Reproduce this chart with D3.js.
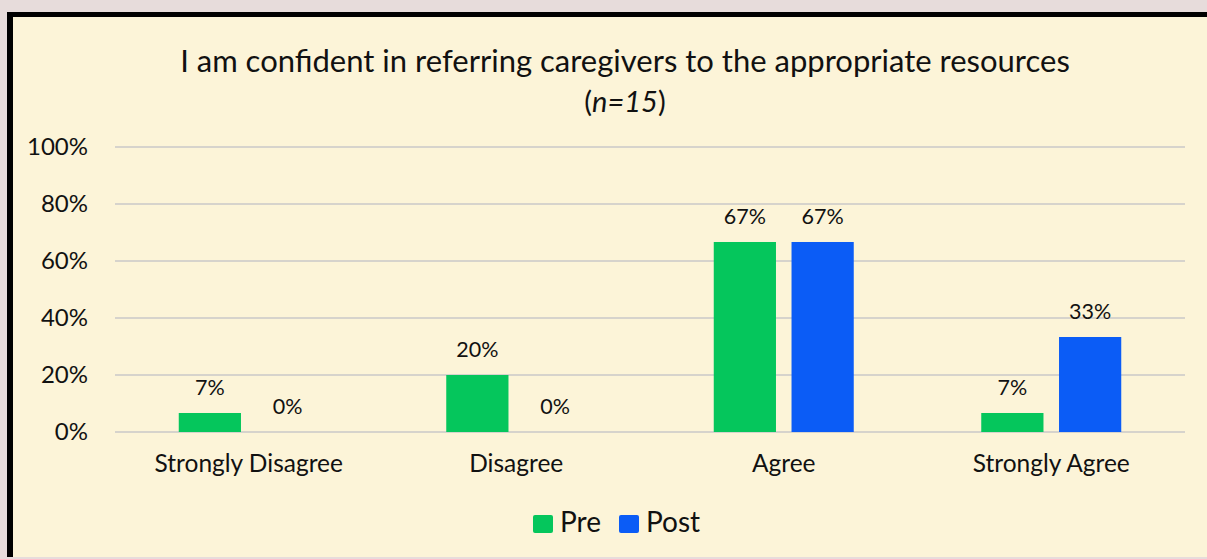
<!DOCTYPE html>
<html>
<head>
<meta charset="utf-8">
<script src="https://cdn.jsdelivr.net/npm/d3@7"></script>
<style>
  html, body { margin: 0; padding: 0; background: #e7dcdb; }
  svg { display: block; font-family: Lato, "Open Sans", sans-serif; }
</style>
</head>
<body>
<svg id="chart" width="1207" height="559"></svg>
<script>
const categories = ["Strongly Disagree", "Disagree", "Agree", "Strongly Agree"];
const series = ["Pre", "Post"];
const preValues = [6.67, 20, 66.67, 6.67];
const postValues = [0, 0, 66.67, 33.33];
const valueLabels = [["7%", "20%", "67%", "7%"], ["0%", "0%", "67%", "33%"]];
const yTicks = [0, 20, 40, 60, 80, 100];

const colors = { Pre: "#05c65c", Post: "#0b5cf6" };
const margin = { left: 115, right: 22, top: 147, bottom: 127 };
const W = 1207, H = 559;
const width = W - margin.left - margin.right;
const height = H - margin.top - margin.bottom;

const svg = d3.select("#chart");

// panel + black frame on top/left
svg.append("rect").attr("x", 10).attr("y", 15).attr("width", W - 10).attr("height", H - 17)
  .attr("fill", "#fcf4d8");
svg.append("rect").attr("x", 7).attr("y", 12).attr("width", W - 7).attr("height", 5).attr("fill", "#000");
svg.append("rect").attr("x", 7).attr("y", 12).attr("width", 6).attr("height", H - 14).attr("fill", "#000");

// title
const title = svg.append("text")
  .attr("text-anchor", "middle")
  .attr("fill", "#111");
title.append("tspan").attr("x", 625).attr("y", 72).attr("font-size", 31)
  .text("I am confident in referring caregivers to the appropriate resources");
const t2 = title.append("tspan").attr("x", 625).attr("y", 112).attr("font-size", 29);
t2.append("tspan").text("(");
t2.append("tspan").attr("font-style", "italic").text("n=15");
t2.append("tspan").text(")");

const x0 = d3.scaleBand().domain(categories).range([0, width]);
const x1 = d3.scaleBand().domain(series).range([x0.bandwidth() / 2 - 70, x0.bandwidth() / 2 + 70]).paddingInner(0.2);
const y = d3.scaleLinear().domain([0, 100]).range([height, 0]);

const g = svg.append("g").attr("transform", `translate(${margin.left},${margin.top})`);

// gridlines
g.selectAll(".grid").data(yTicks).enter().append("line")
  .attr("x1", 0).attr("x2", width)
  .attr("y1", d => y(d)).attr("y2", d => y(d))
  .attr("stroke", "#d6d3cc").attr("stroke-width", 2);

// y axis labels
const yAxis = d3.axisLeft(y).tickValues(yTicks).tickFormat(d => d + "%").tickSize(0).tickPadding(27);
const yg = g.append("g").call(yAxis);
yg.select(".domain").remove();
yg.selectAll("text").attr("font-size", 24).attr("fill", "#111").attr("font-family", "Lato, sans-serif");

// x axis labels
const xAxis = d3.axisBottom(x0).tickSize(0).tickPadding(23);
const xg = g.append("g").attr("transform", `translate(0,${height})`).call(xAxis);
xg.select(".domain").remove();
xg.selectAll("text").attr("font-size", 24.5).attr("fill", "#111").attr("font-family", "Lato, sans-serif");

// bars
const rows = categories.map((c, i) => ({
  cat: c,
  vals: [
    { s: "Pre", v: preValues[i], lbl: valueLabels[0][i] },
    { s: "Post", v: postValues[i], lbl: valueLabels[1][i] }
  ]
}));

const cg = g.selectAll(".cat").data(rows).enter().append("g")
  .attr("transform", d => `translate(${x0(d.cat)},0)`);

cg.selectAll("rect").data(d => d.vals).enter().append("rect")
  .attr("x", d => x1(d.s))
  .attr("y", d => y(d.v))
  .attr("width", x1.bandwidth())
  .attr("height", d => height - y(d.v))
  .attr("fill", d => colors[d.s]);

cg.selectAll(".lbl").data(d => d.vals).enter().append("text")
  .attr("x", d => x1(d.s) + x1.bandwidth() / 2)
  .attr("y", d => y(d.v) - 18)
  .attr("text-anchor", "middle")
  .attr("font-size", 21.5)
  .attr("fill", "#111")
  .text(d => d.lbl);

// legend
const leg = svg.append("g").attr("transform", "translate(533,515)");
const items = [{ s: "Pre", x: 0 }, { s: "Post", x: 86 }];
items.forEach(it => {
  leg.append("rect").attr("x", it.x).attr("y", 0).attr("width", 20).attr("height", 18)
    .attr("rx", 2).attr("fill", colors[it.s]);
  leg.append("text").attr("x", it.x + 27).attr("y", 17).attr("font-size", 28)
    .attr("fill", "#111").text(it.s);
});
</script>
</body>
</html>
